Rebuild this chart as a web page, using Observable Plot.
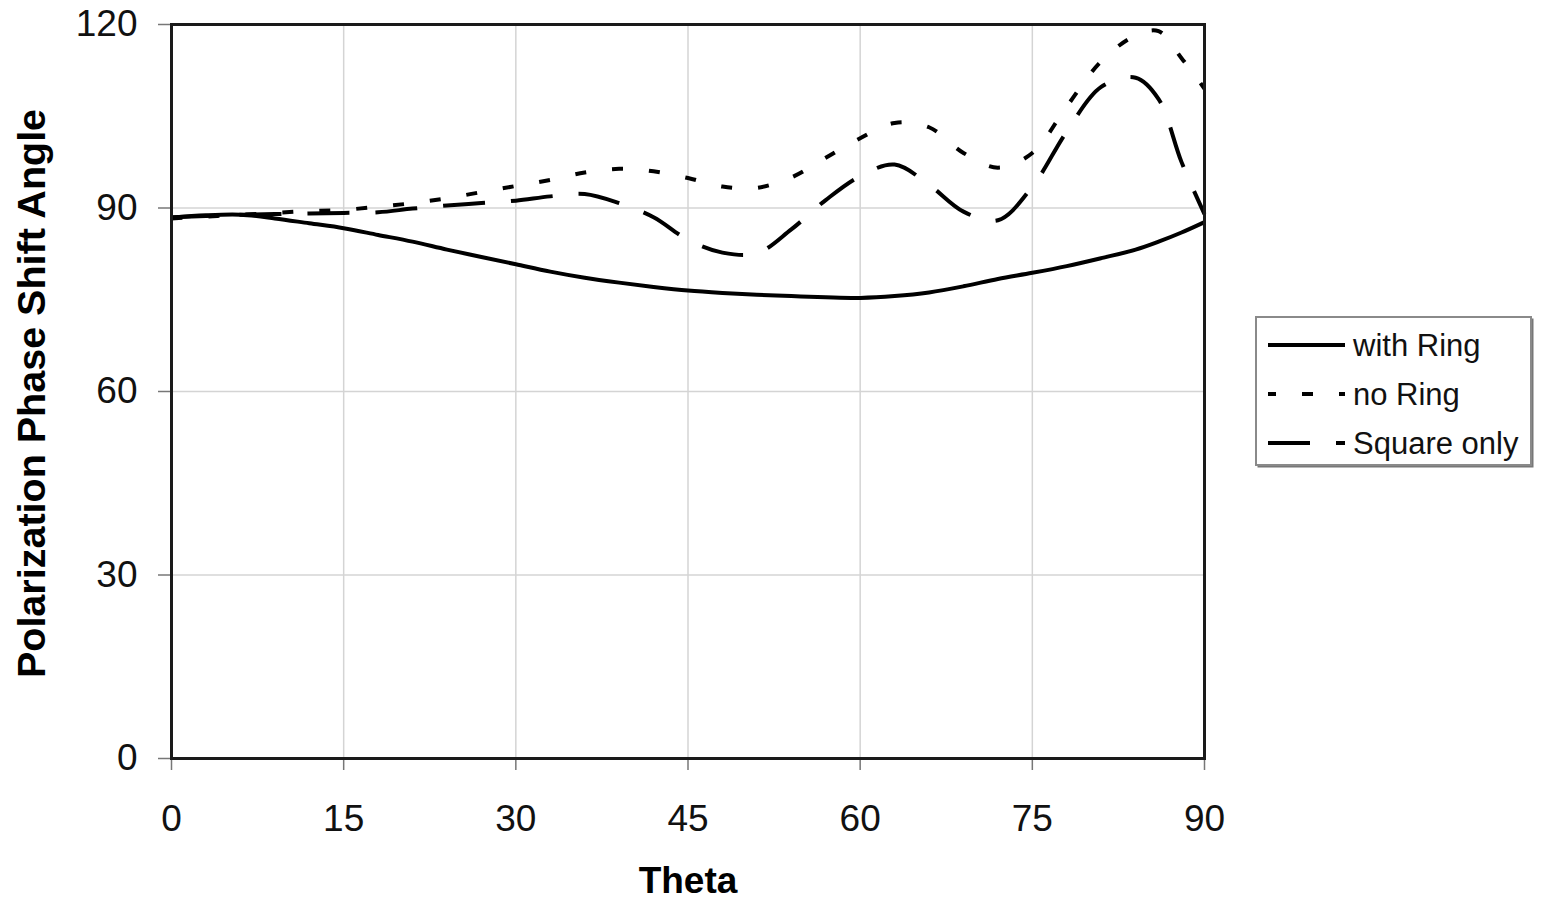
<!DOCTYPE html>
<html>
<head>
<meta charset="utf-8">
<script src="https://cdn.jsdelivr.net/npm/d3@7"></script>
<script src="https://cdn.jsdelivr.net/npm/@observablehq/plot@0.6"></script>
<style>
  html, body { margin: 0; padding: 0; background: #fff; }
  #chart { position: relative; width: 1541px; height: 900px; }
</style>
</head>
<body>
<div id="chart"></div>
<script>
// Incidence angle (degrees)
const theta = [0, 3, 6, 9, 12, 15, 18, 21, 24, 27, 30, 33, 36, 39, 42, 45, 48, 51, 54, 57, 60, 63, 66, 69, 72, 75, 78, 81, 84, 86, 88, 90];

// Polarization phase shift angle for each configuration
const withRing   = [88.4, 88.8, 88.9, 88.3, 87.5, 86.7, 85.6, 84.5, 83.2, 82.0, 80.8, 79.6, 78.6, 77.8, 77.1, 76.5, 76.1, 75.8, 75.6, 75.4, 75.3, 75.6, 76.2, 77.2, 78.4, 79.4, 80.5, 81.8, 83.2, 84.5, 86.0, 87.7];
const noRing     = [88.3, 88.6, 88.9, 89.2, 89.5, 89.7, 90.2, 90.8, 91.6, 92.6, 93.6, 94.6, 95.8, 96.4, 96.0, 94.9, 93.5, 93.3, 95.0, 98.2, 101.4, 103.9, 103.2, 99.0, 96.6, 99.0, 106.6, 114.0, 118.2, 118.9, 114.5, 109.5];
const squareOnly = [88.5, 88.7, 88.9, 89.0, 89.1, 89.2, 89.3, 89.9, 90.4, 90.8, 91.2, 91.9, 92.3, 90.8, 88.5, 84.8, 82.7, 82.6, 86.5, 91.3, 95.2, 97.1, 93.8, 89.4, 88.0, 93.5, 102.5, 109.8, 111.3, 107.8, 97.5, 89.0];

// Axis ticks
const xTicks = [0, 15, 30, 45, 60, 75, 90];
const yTicks = [0, 30, 60, 90, 120];

// Series names and line styles
const seriesNames = ["with Ring", "no Ring", "Square only"];
const seriesDash = ["none", "11,26", "42,26"];
const seriesValues = [withRing, noRing, squareOnly];

const rows = seriesNames.flatMap((name, s) =>
  theta.map((t, i) => ({series: name, theta: t, value: seriesValues[s][i]}))
);

const font = "'Liberation Sans', Arial, sans-serif";

const plot = Plot.plot({
  width: 1541,
  height: 900,
  marginLeft: 171,
  marginRight: 337,
  marginTop: 24,
  marginBottom: 142,
  style: {fontFamily: font, background: "#fff", color: "#111", overflow: "visible"},
  x: {domain: [0, 90]},
  y: {domain: [0, 120]},
  marks: [
    Plot.gridX(xTicks, {stroke: "#d4d4d4", strokeOpacity: 1, strokeWidth: 1.5}),
    Plot.gridY(yTicks, {stroke: "#d4d4d4", strokeOpacity: 1, strokeWidth: 1.5}),
    Plot.axisX(xTicks, {tickSize: 12, tickPadding: 34, fontSize: 37, stroke: "#777", strokeWidth: 1.5, fill: "#111", label: null}),
    Plot.axisY(yTicks, {tickSize: 13, tickPadding: 21, fontSize: 37, stroke: "#777", strokeWidth: 1.5, fill: "#111", label: null}),
    ...seriesNames.map((name, s) =>
      Plot.line(rows.filter(d => d.series === name), {
        x: "theta",
        y: "value",
        stroke: "#000",
        strokeWidth: 4,
        strokeDasharray: seriesDash[s],
        strokeLinecap: "butt",
        curve: "catmull-rom"
      })
    ),
    Plot.frame({stroke: "#1a1a1a", strokeWidth: 3}),
    Plot.text(["Theta"], {frameAnchor: "bottom", dy: 123, text: d => d, fontSize: 37, fontWeight: "bold", fill: "#000", textAnchor: "middle", lineAnchor: "middle"}),
    Plot.text(["Polarization Phase Shift Angle"], {frameAnchor: "left", dx: -139, dy: 2, rotate: -90, text: d => d, fontSize: 39.5, fontWeight: "bold", fill: "#000", textAnchor: "middle", lineAnchor: "middle"})
  ]
});

document.getElementById("chart").appendChild(plot);

// Legend box at the right of the plot area
const svg = d3.select(plot);
const lg = svg.append("g").attr("transform", "translate(1256,317)");
lg.append("rect").attr("x", 1.5).attr("y", 1.5).attr("width", 276).attr("height", 149).attr("fill", "#777");
lg.append("rect").attr("x", 0).attr("y", 0).attr("width", 275).attr("height", 148)
  .attr("fill", "#fff").attr("stroke", "#8a8a8a").attr("stroke-width", 2);
const rowY = [28, 77, 126];
const dashOffset = [0, 3, 0];
seriesNames.forEach((name, s) => {
  lg.append("line")
    .attr("x1", 12).attr("x2", 89)
    .attr("y1", rowY[s]).attr("y2", rowY[s])
    .attr("stroke", "#000").attr("stroke-width", 4)
    .attr("stroke-dasharray", seriesDash[s] === "none" ? null : seriesDash[s])
    .attr("stroke-dashoffset", dashOffset[s]);
  lg.append("text")
    .attr("x", 97).attr("y", rowY[s])
    .attr("dy", "0.35em")
    .attr("text-anchor", "start")
    .attr("font-family", font)
    .attr("font-size", 31)
    .attr("fill", "#111")
    .text(name);
});
</script>
</body>
</html>
